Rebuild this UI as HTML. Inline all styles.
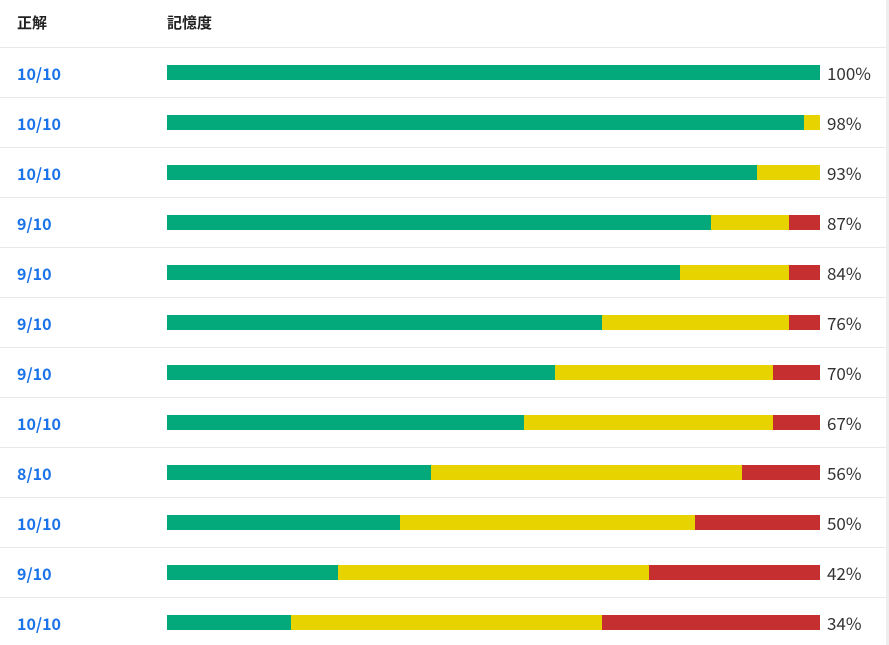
<!DOCTYPE html>
<html><head><meta charset="utf-8"><style>
body{margin:0;width:889px;height:645px;background:#fff;position:relative;overflow:hidden;font-family:"Liberation Sans","Noto Sans CJK JP",sans-serif}
.h{position:absolute;top:12px;font-size:15px;font-weight:bold;color:#222;font-family:"Noto Sans CJK JP",sans-serif}
.line{position:absolute;left:0;width:886px;height:1px;background:#e8e8e8}
.vl{position:absolute;left:886px;top:0;width:3px;height:645px;background:#eee}
.lab{position:absolute;left:17px;font-size:16px;font-weight:bold;color:#1a73e8;font-family:"Noto Sans CJK JP",sans-serif;line-height:20px}
.pct{position:absolute;left:827px;font-size:17px;color:#333;font-family:"Noto Sans CJK JP",sans-serif;line-height:20px}
.s{position:absolute;height:15px}
</style></head><body>
<div class="h" style="left:17px">正解</div>
<div class="h" style="left:167px">記憶度</div>
<div class="vl"></div>
<div id="c"></div>
<script>
var d=[["10/10",820,820,"100%"],["10/10",804,820,"98%"],["10/10",757,820,"93%"],["9/10",711,789,"87%"],["9/10",680,789,"84%"],["9/10",602,789,"76%"],["9/10",555,773,"70%"],["10/10",524,773,"67%"],["8/10",431,742,"56%"],["10/10",400,695,"50%"],["9/10",338,649,"42%"],["10/10",291,602,"34%"]];
var h="";
d.forEach(function(r,i){var y=47+50*i;var by=y+18;
h+='<div class="line" style="top:'+y+'px"></div>';
h+='<div class="lab" style="top:'+(y+16)+'px">'+r[0]+'</div>';
h+='<div class="s" style="top:'+by+'px;left:167px;width:'+(r[1]-167)+'px;background:#03a97a"></div>';
if(r[2]>r[1])h+='<div class="s" style="top:'+by+'px;left:'+r[1]+'px;width:'+(r[2]-r[1])+'px;background:#e6d300"></div>';
if(820>r[2])h+='<div class="s" style="top:'+by+'px;left:'+r[2]+'px;width:'+(820-r[2])+'px;background:#c62f2f"></div>';
h+='<div class="pct" style="top:'+(y+16)+'px">'+r[3]+'</div>';});
document.getElementById("c").innerHTML=h;
</script>
</body></html>
